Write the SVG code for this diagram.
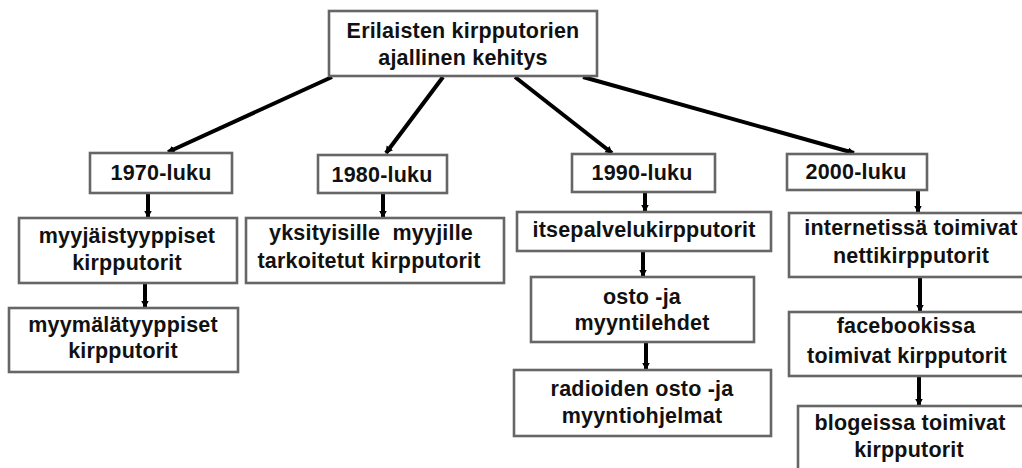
<svg xmlns="http://www.w3.org/2000/svg" width="1022" height="468" viewBox="0 0 1022 468">
<style>
.box{fill:#fff;stroke:#666;stroke-width:2.6}
.t{font-family:"Liberation Sans",Arial,sans-serif;font-weight:bold;font-size:21.5px;fill:#111;text-anchor:middle;letter-spacing:0.2px}
.c{stroke:#000;stroke-width:4;fill:none;marker-end:url(#ah)}
.v{stroke:#000;stroke-width:4;fill:none;marker-end:url(#ah)}
</style>
<defs>
<marker id="ah" markerWidth="3" markerHeight="3" refX="1.6" refY="1" orient="auto" markerUnits="strokeWidth">
<path d="M0,0 L1.8,1 L0,2 Z" fill="#000"/>
</marker>
</defs>
<rect width="1022" height="468" fill="#fff"/>
<g id="connectors">
<line class="c" x1="332" y1="77" x2="168" y2="152"/>
<line class="c" x1="443" y1="77" x2="386" y2="153"/>
<line class="c" x1="515" y1="77" x2="612" y2="153"/>
<line class="c" x1="583" y1="77" x2="854" y2="153"/>
<line class="v" x1="148" y1="193" x2="148" y2="217"/>
<line class="v" x1="145" y1="283" x2="145" y2="307"/>
<line class="v" x1="383" y1="193" x2="383" y2="217"/>
<line class="v" x1="645" y1="192" x2="645" y2="211"/>
<line class="v" x1="643" y1="251" x2="643" y2="276"/>
<line class="v" x1="646" y1="342" x2="646" y2="369"/>
<line class="v" x1="918" y1="190" x2="918" y2="212"/>
<line class="v" x1="920" y1="277" x2="920" y2="311"/>
<line class="v" x1="919" y1="376" x2="919" y2="405"/>
</g>
<g id="root">
<rect class="box" x="329" y="11" width="268" height="65"/>
<text class="t" x="463" y="38">Erilaisten kirpputorien</text>
<text class="t" x="463" y="65">ajallinen kehitys</text>
</g>
<g id="n1970">
<rect class="box" x="90" y="153" width="142" height="40"/>
<text class="t" x="161" y="180">1970-luku</text>
</g>
<g id="n1980">
<rect class="box" x="318" y="155" width="129" height="38"/>
<text class="t" x="382" y="182">1980-luku</text>
</g>
<g id="n1990">
<rect class="box" x="572" y="154" width="143" height="38"/>
<text class="t" x="642" y="180">1990-luku</text>
</g>
<g id="n2000">
<rect class="box" x="787" y="154" width="140" height="36"/>
<text class="t" x="856" y="179">2000-luku</text>
</g>
<g id="myyjaist">
<rect class="box" x="19" y="218" width="218" height="65"/>
<text class="t" x="127" y="243">myyjäistyyppiset</text>
<text class="t" x="127" y="270">kirpputorit</text>
</g>
<g id="myymala">
<rect class="box" x="9" y="308" width="229" height="64"/>
<text class="t" x="123" y="332">myymälätyyppiset</text>
<text class="t" x="123" y="358">kirpputorit</text>
</g>
<g id="yksityisille">
<rect class="box" x="246" y="218" width="258" height="65"/>
<text class="t" x="371" y="240" xml:space="preserve">yksityisille  myyjille</text>
<text class="t" x="369" y="268">tarkoitetut kirpputorit</text>
</g>
<g id="itsepalvelu">
<rect class="box" x="517" y="212" width="254" height="39"/>
<text class="t" x="644" y="237">itsepalvelukirpputorit</text>
</g>
<g id="osto">
<rect class="box" x="531" y="277" width="223" height="65"/>
<text class="t" x="642" y="304">osto -ja</text>
<text class="t" x="642" y="330">myyntilehdet</text>
</g>
<g id="radio">
<rect class="box" x="514" y="370" width="257" height="66"/>
<text class="t" x="642" y="396">radioiden osto -ja</text>
<text class="t" x="642" y="423">myyntiohjelmat</text>
</g>
<g id="internet">
<rect class="box" x="789" y="213" width="240" height="64"/>
<text class="t" x="911" y="235">internetissä toimivat</text>
<text class="t" x="911" y="263">nettikirpputorit</text>
</g>
<g id="facebook">
<rect class="box" x="789" y="312" width="240" height="64"/>
<text class="t" x="906" y="333">facebookissa</text>
<text class="t" x="907" y="363">toimivat kirpputorit</text>
</g>
<g id="blogit">
<rect class="box" x="798" y="406" width="230" height="75"/>
<text class="t" x="910" y="430">blogeissa toimivat</text>
<text class="t" x="909" y="457">kirpputorit</text>
</g>
</svg>
